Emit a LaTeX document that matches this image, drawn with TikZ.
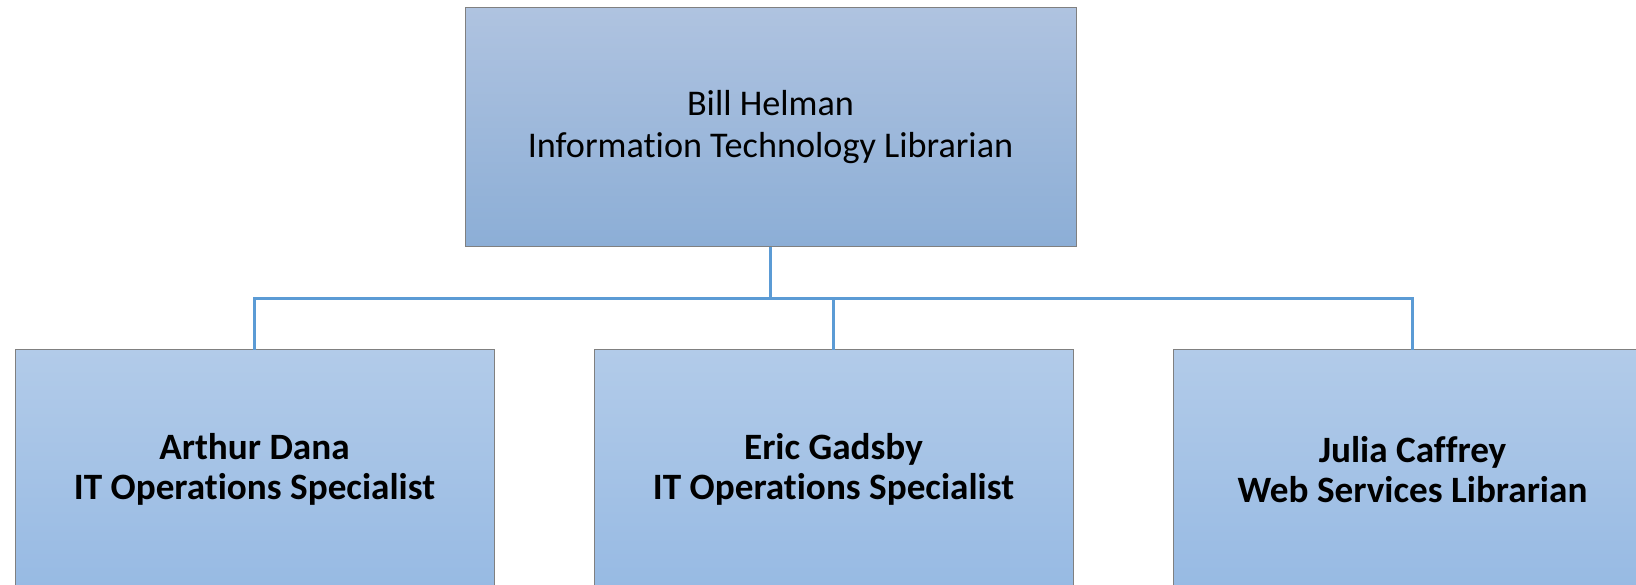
\documentclass[tikz,border=0pt]{standalone}
\usepackage{fontspec}
\setmainfont[Ligatures={NoCommon}]{Carlito}
\usepackage{tikz}
\usetikzlibrary{arrows,calc}
\definecolor{boxtop}{RGB}{175,195,224}
\definecolor{boxbottom}{RGB}{140,174,214}
\definecolor{stafftop}{RGB}{178,203,233}
\definecolor{staffbottom}{RGB}{151,186,227}
\definecolor{linkblue}{RGB}{91,155,213}
\tikzstyle{element}=[
  draw=black!50,
  line width=1pt,
  inner sep=0pt,
  outer sep=0pt,
  rectangle,
  align=center,
  text centered,
  font={\fontsize{36.2}{42}\selectfont},
]
\tikzstyle{head}=[
  element,
  minimum width=611pt,
  minimum height=239pt,
  top color=boxtop,
  bottom color=boxbottom,
]
\tikzstyle{staff}=[
  element,
  minimum width=479pt,
  minimum height=239pt,
  top color=stafftop,
  bottom color=staffbottom,
  font={\fontsize{37.2}{40.5}\selectfont\bfseries},
]
\tikzstyle{link}=[
  color=linkblue,
  draw=linkblue,
  line width=2.5pt,
]
\tikzset{
  node distance=579pt,
}

\begin{document}
\begin{tikzpicture}[x=1pt,y=1pt]
      \useasboundingbox (0,0) rectangle (1636,584);
      \clip (0,0) rectangle (1636,584);
      \node (helman) [head] at (770.5,456.5) {Bill Helman\\Information Technology Librarian};
      \node (dana) [staff] at (254.5,114.5) {Arthur Dana\\IT Operations Specialist};
      \node (gadsby) [staff, right of=dana] {Eric Gadsby\\IT Operations Specialist};
      \node (caffrey) [staff, right of=gadsby] {Julia Caffrey\\Web Services Librarian};
      \coordinate (bus) at ($(helman.south)!.5!(helman.south |- gadsby.north)$);
      \draw [link] (helman.south) -- (bus) -| (dana.north);
      \draw [link] (bus) -| (gadsby.north);
      \draw [link] (bus) -| (caffrey.north);
    \end{tikzpicture}
\end{document}
